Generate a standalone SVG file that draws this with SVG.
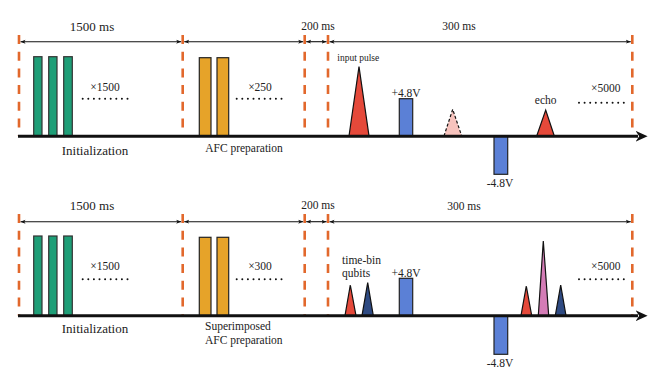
<svg xmlns="http://www.w3.org/2000/svg" width="665" height="378" viewBox="0 0 665 378">
<defs>
<marker id="ah" viewBox="0 0 10 10" refX="10" refY="5" markerWidth="5" markerHeight="5" orient="auto-start-reverse" markerUnits="userSpaceOnUse">
<path d="M0,1 L10,5 L0,9 L2.5,5 Z" fill="#111"/>
</marker>
<marker id="axh" viewBox="0 0 10 10" refX="2" refY="5" markerWidth="12" markerHeight="12" orient="auto" markerUnits="userSpaceOnUse">
<path d="M0,0.5 L10,5 L0,9.5 L3,5 Z" fill="#111"/>
</marker>
<style>
text{font-family:"Liberation Serif","DejaVu Serif",serif;fill:#222}
.t13{font-size:13px}
.t12{font-size:11.5px}
.t9{font-size:9.5px}
.dash{stroke:#e2682c;stroke-width:2.6;stroke-dasharray:9 7.7;fill:none}
.dim{stroke:#111;stroke-width:1.1;fill:none;marker-start:url(#ah);marker-end:url(#ah)}
.axis{stroke:#111;stroke-width:3;fill:none}
.dots{stroke:#111;stroke-width:2;stroke-linecap:round;stroke-dasharray:0 5.6;fill:none}
.green{fill:#1e9e77;stroke:#333;stroke-width:1.2}
.orange{fill:#e6a329;stroke:#222;stroke-width:1.2}
.blue{fill:#5b80d6;stroke:#222;stroke-width:1.2}
.red{fill:#e5493a;stroke:#111;stroke-width:1.2}
.navy{fill:#2e4a82;stroke:#111;stroke-width:1.2}
.mag{fill:#d47cb6;stroke:#111;stroke-width:1.2}
.pink{fill:#f7c3bd;stroke:#111;stroke-width:1.2;stroke-dasharray:3 2}
</style>
</defs>

<!-- ===== TOP ROW ===== -->
<g id="top-row">
<g id="top-markers">
<line class="dash" x1="19" y1="35" x2="19" y2="136"/>
<line class="dash" x1="182.7" y1="35" x2="182.7" y2="136"/>
<line class="dash" x1="304.7" y1="35" x2="304.7" y2="136"/>
<line class="dash" x1="328" y1="35" x2="328" y2="136"/>
<line class="dash" x1="632.3" y1="35" x2="632.3" y2="136"/>
</g>
<g id="top-dims">
<line class="dim" x1="20.5" y1="41.7" x2="181.2" y2="41.7"/>
<line class="dim" x1="184.2" y1="41.7" x2="303.2" y2="41.7"/>
<line class="dim" x1="306.2" y1="41.7" x2="326.5" y2="41.7"/>
<line class="dim" x1="329.5" y1="41.7" x2="630.8" y2="41.7"/>
<text class="t13" x="92" y="31" text-anchor="middle">1500 ms</text>
<text class="t12" x="318" y="30" text-anchor="middle">200 ms</text>
<text class="t12" x="459" y="30" text-anchor="middle">300 ms</text>
</g>
<g id="top-init">
<rect class="green" x="33.7" y="56.7" width="8.3" height="79.3"/>
<rect class="green" x="48.7" y="56.7" width="8.3" height="79.3"/>
<rect class="green" x="63.7" y="56.7" width="8.6" height="79.3"/>
<text class="t12" x="105" y="91" text-anchor="middle">×1500</text>
<line class="dots" x1="82.7" y1="98.7" x2="128" y2="98.7"/>
<text class="t13" x="95" y="154.5" text-anchor="middle">Initialization</text>
</g>
<g id="top-afc">
<rect class="orange" x="199.3" y="57.7" width="11.7" height="78.3"/>
<rect class="orange" x="217" y="57.7" width="11.7" height="78.3"/>
<text class="t12" x="260" y="91" text-anchor="middle">×250</text>
<line class="dots" x1="236.7" y1="98.7" x2="282" y2="98.7"/>
<text class="t12" x="244" y="151.5" text-anchor="middle">AFC preparation</text>
</g>
<g id="top-storage">
<text class="t9" x="358.3" y="60.5" text-anchor="middle">input pulse</text>
<polygon class="red" points="349,136 359,66.7 369,136"/>
<rect class="blue" x="399.3" y="98.7" width="13.4" height="37.3"/>
<text class="t12" x="406" y="97" text-anchor="middle">+4.8V</text>
<polygon class="pink" points="444,136 452.7,109.3 461.7,136"/>
<rect class="blue" x="494" y="136" width="13.7" height="38.3"/>
<text class="t12" x="500" y="186.5" text-anchor="middle">-4.8V</text>
<polygon class="red" points="536.7,136 545.7,110 554.3,136"/>
<text class="t12" x="545.7" y="104" text-anchor="middle">echo</text>
<text class="t12" x="605.7" y="91.5" text-anchor="middle">×5000</text>
<line class="dots" x1="579" y1="102.7" x2="624" y2="102.7"/>
</g>
</g>

<!-- ===== BOTTOM ROW ===== -->
<g id="bottom-row">
<g id="bot-markers">
<line class="dash" x1="19" y1="214" x2="19" y2="315.7"/>
<line class="dash" x1="182.7" y1="214" x2="182.7" y2="315.7"/>
<line class="dash" x1="304.7" y1="214" x2="304.7" y2="315.7"/>
<line class="dash" x1="328" y1="214" x2="328" y2="315.7"/>
<line class="dash" x1="632.3" y1="214" x2="632.3" y2="315.7"/>
</g>
<g id="bot-dims">
<line class="dim" x1="20.5" y1="221.7" x2="181.2" y2="221.7"/>
<line class="dim" x1="184.2" y1="221.7" x2="303.2" y2="221.7"/>
<line class="dim" x1="306.2" y1="221.7" x2="326.5" y2="221.7"/>
<line class="dim" x1="329.5" y1="221.7" x2="630.8" y2="221.7"/>
<text class="t13" x="92" y="209.5" text-anchor="middle">1500 ms</text>
<text class="t12" x="318" y="209" text-anchor="middle">200 ms</text>
<text class="t12" x="464" y="210" text-anchor="middle">300 ms</text>
</g>
<g id="bot-init">
<rect class="green" x="33.7" y="236" width="8.3" height="79.7"/>
<rect class="green" x="48.7" y="236" width="8.3" height="79.7"/>
<rect class="green" x="63.7" y="236" width="8.6" height="79.7"/>
<text class="t12" x="105" y="270" text-anchor="middle">×1500</text>
<line class="dots" x1="82.7" y1="279.3" x2="128" y2="279.3"/>
<text class="t13" x="95" y="332.8" text-anchor="middle">Initialization</text>
</g>
<g id="bot-afc">
<rect class="orange" x="199.3" y="237.3" width="11.7" height="78.4"/>
<rect class="orange" x="217" y="237.3" width="11.7" height="78.4"/>
<text class="t12" x="260" y="270" text-anchor="middle">×300</text>
<line class="dots" x1="236.7" y1="279.3" x2="282" y2="279.3"/>
<text class="t12" x="205" y="330" text-anchor="start">Superimposed</text>
<text class="t12" x="205" y="344" text-anchor="start">AFC preparation</text>
</g>
<g id="bot-storage">
<text class="t12" x="342" y="264" text-anchor="start">time-bin</text>
<text class="t12" x="342" y="276.5" text-anchor="start">qubits</text>
<polygon class="red" points="345,315.7 350.3,285 356,315.7"/>
<polygon class="navy" points="362,315.7 367.7,282.7 373.3,315.7"/>
<rect class="blue" x="399.3" y="278.3" width="13.4" height="37.4"/>
<text class="t12" x="406" y="276.5" text-anchor="middle">+4.8V</text>
<rect class="blue" x="494" y="315.7" width="13.7" height="38.6"/>
<text class="t12" x="500" y="366.5" text-anchor="middle">-4.8V</text>
<polygon class="red" points="521,315.7 526.3,286 531.7,315.7"/>
<polygon class="mag" points="538.3,315.7 543.3,241 548.7,315.7"/>
<polygon class="navy" points="555.3,315.7 560.7,285 566,315.7"/>
<text class="t12" x="605.7" y="270" text-anchor="middle">×5000</text>
<line class="dots" x1="579" y1="279.3" x2="624" y2="279.3"/>
</g>
</g>

<!-- connectors: time axes -->
<g id="connectors">
<line class="axis" x1="18" y1="136.3" x2="638" y2="136.3" marker-end="url(#axh)"/>
<line class="axis" x1="18" y1="315.7" x2="638" y2="315.7" marker-end="url(#axh)"/>
</g>
</svg>
